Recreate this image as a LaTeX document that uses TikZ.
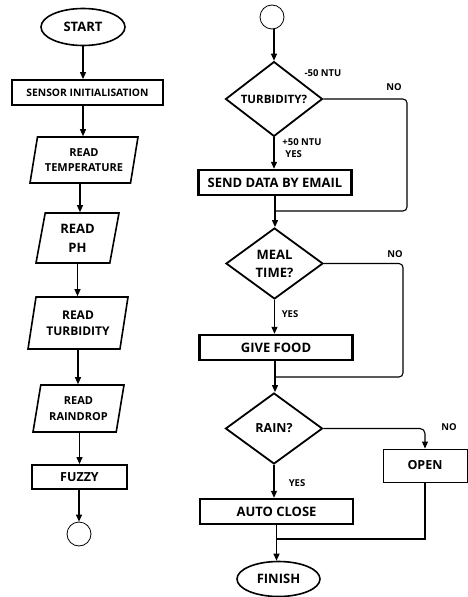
\documentclass[tikz,border=0pt]{standalone}
\usepackage{fontspec}
\setmainfont{Open Sans}
\usetikzlibrary{shapes.geometric, arrows.meta}

\begin{document}
\begin{tikzpicture}[
		x=1pt, y=-1pt,
		every node/.style={font=\bfseries, inner sep=0pt, align=center},
		flow/.style={line width=1.1pt, -{Triangle[length=7pt, width=6pt]}},
		link/.style={line width=1.1pt, rounded corners=4pt},
		terminal/.style={ellipse, draw, line width=1.6pt, minimum width=84pt, minimum height=37pt, font=\bfseries\fontsize{13}{14}\selectfont},
		process/.style={rectangle, draw, line width=1.8pt, minimum height=25pt},
		action/.style={rectangle, draw, line width=2.4pt, minimum height=25pt, minimum width=153pt, font=\bfseries\fontsize{13}{14}\selectfont},
		inout/.style={trapezium, draw, line width=1.6pt, trapezium left angle=72, trapezium right angle=108, trapezium stretches body},
		decision/.style={diamond, draw, line width=1.8pt, minimum width=97pt, minimum height=71pt},
		connector/.style={circle, draw, line width=0.8pt, minimum size=24pt},
		tag/.style={font=\bfseries\fontsize{9.5}{12}\selectfont}
	]
  \useasboundingbox (0, 0) rectangle (467, 597);
  % left column
  \node (start) [terminal] at (83, 27) {START};
  \node (init) [process, minimum width=151pt, font=\bfseries\fontsize{10.3}{11}\selectfont] at (87.5, 92.5) {SENSOR INITIALISATION};
  \node (temp) [inout, minimum width=108pt, minimum height=46pt, font=\bfseries\fontsize{11}{15}\selectfont] at (84, 160) {READ\\TEMPERATURE};
  \node (ph) [inout, minimum width=83pt, minimum height=50pt, font=\bfseries\fontsize{13}{19}\selectfont] at (77.5, 238) {READ\\PH};
  \node (turb) [inout, minimum width=100pt, minimum height=52pt, font=\bfseries\fontsize{12}{16}\selectfont] at (78, 323) {READ\\TURBIDITY};
  \node (drop) [inout, minimum width=91pt, minimum height=47pt, font=\bfseries\fontsize{11}{16}\selectfont] at (78.5, 408.5) {READ\\RAINDROP};
  \node (fuzzy) [process, minimum width=95pt, minimum height=24pt, font=\bfseries\fontsize{12.5}{13}\selectfont] at (79.5, 477) {FUZZY};
  \node (c_out) [connector] at (79, 534) {};
  \draw [flow] (start.south) -- (start.south |- init.north);
  \draw [flow] (init.south -| start) -- (start |- temp.north);
  \draw [flow] (temp.south -| 80, 0) -- (80, 0 |- ph.north);
  \draw [flow] (ph.south) -- (ph.south |- turb.north);
  \draw [flow] (turb.south) -- (turb.south |- drop.north);
  \draw [flow] (drop.south -| fuzzy) -- (fuzzy.north);
  \draw [flow] (fuzzy.south -| c_out) -- (c_out.north);
  % right column
  \node (c_in) [connector] at (272, 17) {};
  \node (q_turb) [decision, font=\bfseries\fontsize{11.5}{13}\selectfont] at (274, 99) {TURBIDITY?};
  \node (email) [action] at (275, 182.5) {SEND DATA BY EMAIL};
  \node (q_meal) [decision, font=\bfseries\fontsize{13}{18}\selectfont] at (274.5, 263.5) {MEAL\\TIME?};
  \node (food) [action] at (276, 347.5) {GIVE FOOD};
  \node (q_rain) [decision, font=\bfseries\fontsize{12.5}{14}\selectfont] at (274, 428.5) {RAIN?};
  \node (open) [rectangle, draw, line width=1pt, minimum width=84pt, minimum height=33pt, font=\bfseries\fontsize{12.5}{14}\selectfont] at (425, 465.5) {OPEN};
  \node (close) [action] at (276.5, 511.5) {AUTO CLOSE};
  \node (finish) [terminal, minimum width=83pt, minimum height=35pt] at (278.5, 579) {FINISH};
  \coordinate (j_email) at (275, 211);
  \coordinate (j_food) at (275, 377);
  \coordinate (j_close) at (276.5, 539);
  % branch labels
  \node (l_minus) [tag] at (323, 73) {-50 NTU};
  \node (l_plus) [tag, align=left] at (302, 148) {+50 NTU\\\hspace{3pt}YES};
  \node (l_no1) [tag] at (394, 87) {NO};
  \node (l_yes2) [tag] at (290, 314) {YES};
  \node (l_no2) [tag] at (395, 254) {NO};
  \node (l_yes3) [tag] at (297, 483) {YES};
  \node (l_no3) [tag] at (449, 427) {NO};
  % connectors
  \draw [flow] (c_in.south -| 274, 0) -- (q_turb.north);
  \draw [flow] (q_turb.south) -- (q_turb.south |- email.north);
  \draw [link] (q_turb.east) -- (407, 99) -- (407, 211) -- (j_email);
  \draw [flow] (email.south -| j_email) -- (j_email) -- (j_email |- q_meal.north);
  \draw [flow] (q_meal.south) -- (q_meal.south |- food.north);
  \draw [link] (q_meal.east) -- (403, 263.5) -- (403, 377) -- (j_food);
  \draw [flow] (food.south -| j_food) -- (j_food) -- (j_food |- q_rain.north);
  \draw [flow] (q_rain.south) -- (q_rain.south |- close.north);
  \draw [flow, rounded corners=5pt] (q_rain.east) -- (q_rain.east -| open.north) -- (open.north);
  \draw [link, rounded corners=0pt] (open.south) -- (open.south |- j_close) -- (j_close);
  \draw [flow] (close.south -| j_close) -- (j_close) -- (j_close |- finish.north);
\end{tikzpicture}
\end{document}
